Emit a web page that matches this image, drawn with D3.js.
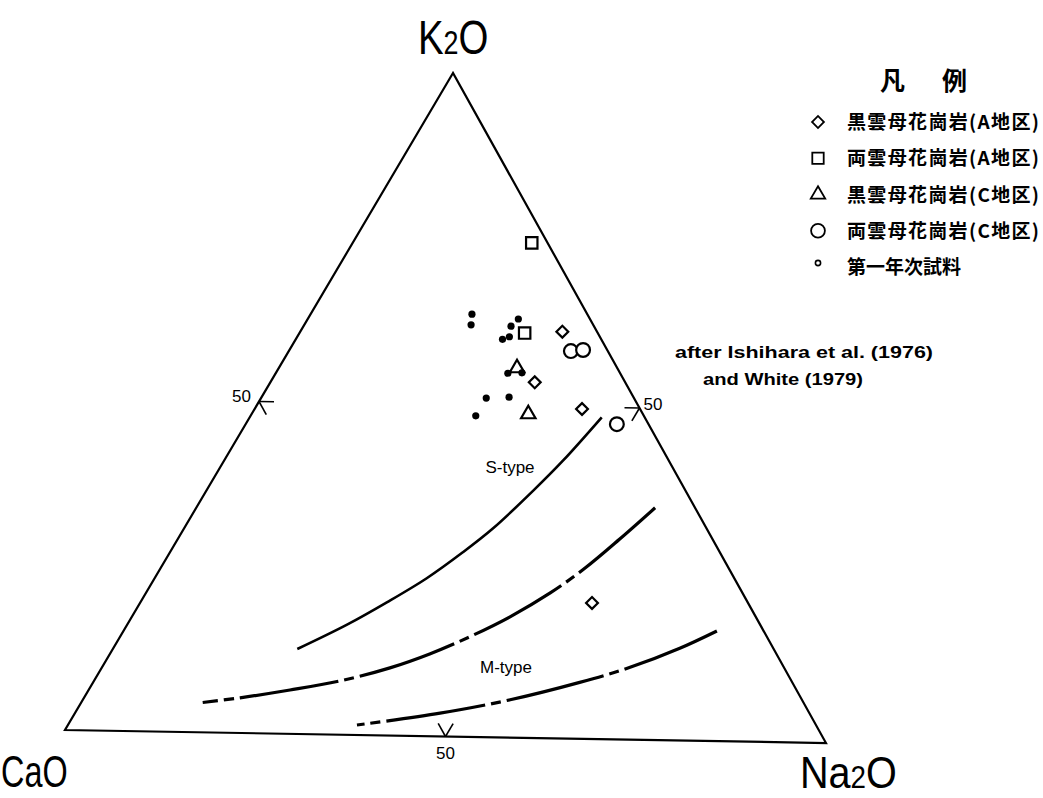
<!DOCTYPE html>
<html>
<head>
<meta charset="utf-8">
<script src="https://cdn.jsdelivr.net/npm/d3@7"></script>
<style>
  body { margin: 0; background: #fff; }
  svg { display: block; }
</style>
</head>
<body>
<svg id="canvas" width="1043" height="798"></svg>
<script>
// ternary values, percent [K2O, CaO, Na2O]
var biotiteA = [[61.3, 4.6, 34.1], [53.6, 12.0, 34.4], [49.7, 7.7, 42.6], [20.5, 20.7, 58.8]];
var twoMicaA = [[74.6, 2.1, 23.3], [61.0, 9.7, 29.3]];
var biotiteC = [[55.7, 13.3, 31.0], [48.8, 15.2, 36.0]];
var twoMicaC = [[58.4, 4.9, 36.7], [58.6, 3.2, 38.2], [47.5, 4.2, 48.3]];
var firstYear = [[63.7, 15.3, 21.0], [62.1, 16.2, 21.7], [62.0, 11.0, 27.0], [63.1, 9.5, 27.4],
                 [60.0, 13.1, 26.9], [60.4, 12.0, 27.6], [54.9, 14.9, 30.2], [55.0, 13.0, 32.0],
                 [51.1, 19.6, 29.3], [51.3, 16.5, 32.2], [48.4, 22.3, 29.3]];

// boundary lines (after Ishihara et al. 1976, White 1979)
var sLine = [[48.5, 5.7, 45.8], [41.9, 14.0, 44.1], [37.2, 20.3, 42.5], [31.5, 28.3, 40.2],
             [27.8, 34.1, 38.1], [23.8, 40.8, 35.4], [20.1, 47.8, 32.1], [16.6, 54.8, 28.6], [12.8, 63.2, 24.0]];
var midLine = [[35.0, 5.3, 59.7], [30.2, 12.3, 57.5], [25.7, 19.1, 55.2], [21.9, 25.5, 52.6],
               [18.2, 32.6, 49.2], [15.1, 39.4, 45.5], [12.4, 46.0, 41.6], [10.2, 52.3, 37.5],
               [8.1, 59.9, 32.0], [6.6, 67.2, 26.2], [5.3, 74.4, 20.3], [4.5, 79.7, 15.8]];
var mLine = [[16.6, 6.2, 77.2], [13.9, 12.4, 73.7], [10.9, 20.4, 68.7], [8.5, 28.2, 63.3],
             [5.7, 38.7, 55.6], [3.5, 49.0, 47.5], [1.5, 60.9, 37.6]];

var tickValues = [50];
var legendLabels = ["黒雲母花崗岩(A地区)", "両雲母花崗岩(A地区)", "黒雲母花崗岩(C地区)", "両雲母花崗岩(C地区)", "第一年次試料"];
var legendTitle = ["凡", "例"];
var fieldLabels = ["S-type", "M-type"];
var sourceNote = ["after Ishihara et al. (1976)", "and White (1979)"];

// corners of the (slightly skewed, scanned) triangle: K2O top, CaO left, Na2O right
var T = [453, 73], C = [65, 730], N = [826, 743];

// barycentric -> pixel, each component through a d3 scale
var wK = d3.scaleLinear().domain([0, 100]).range([0, 1]);
function proj(d) {
  var s = d[0] + d[1] + d[2];
  var k = wK(d[0] * 100 / s), ca = wK(d[1] * 100 / s), na = wK(d[2] * 100 / s);
  return [k * T[0] + ca * C[0] + na * N[0], k * T[1] + ca * C[1] + na * N[1]];
}

var svg = d3.select("#canvas");

// triangle
svg.append("path")
  .attr("d", "M" + T + "L" + C + "L" + N + "Z")
  .attr("fill", "none").attr("stroke", "#000").attr("stroke-width", 2.2);

// 50% ticks: two short strokes into the interior on each side
function unit(a, b) { var dx = b[0] - a[0], dy = b[1] - a[1], l = Math.hypot(dx, dy); return [dx / l, dy / l]; }
var sides = [
  { a: C, b: T, opp: N, val: d => [d, 100 - d, 0], lab: [-8, 0], anchor: "end" },
  { a: T, b: N, opp: C, val: d => [d, 0, 100 - d], lab: [4, 2], anchor: "start" },
  { a: C, b: N, opp: T, val: d => [0, 100 - d, d], lab: [0, 22], anchor: "middle" }
];
sides.forEach(function (s) {
  tickValues.forEach(function (v) {
    var p = proj(s.val(v));
    [unit(s.a, s.opp), unit(s.b, s.opp)].forEach(function (u) {
      svg.append("line")
        .attr("x1", p[0]).attr("y1", p[1])
        .attr("x2", p[0] + u[0] * 15).attr("y2", p[1] + u[1] * 15)
        .attr("stroke", "#000").attr("stroke-width", 1.6);
    });
    svg.append("text")
      .attr("x", p[0] + s.lab[0]).attr("y", p[1] + s.lab[1])
      .attr("text-anchor", s.anchor)
      .style("font", "17px 'Liberation Sans', Arial, sans-serif")
      .text(v);
  });
});

// boundary curves
var line = d3.line().x(d => proj(d)[0]).y(d => proj(d)[1]).curve(d3.curveCatmullRom);
svg.append("path").attr("d", line(sLine))
  .attr("fill", "none").attr("stroke", "#000").attr("stroke-width", 2.6);
svg.append("path").attr("d", line(midLine))
  .attr("fill", "none").attr("stroke", "#000").attr("stroke-width", 3.2)
  .attr("stroke-dasharray", "100,6,10,6");
svg.append("path").attr("d", line(mLine))
  .attr("fill", "none").attr("stroke", "#000").attr("stroke-width", 3.2)
  .attr("stroke-dasharray", "100,6,10,6");

// field labels
svg.append("text").attr("x", 510).attr("y", 473).attr("text-anchor", "middle")
  .style("font", "17px 'Liberation Sans', Arial, sans-serif").text(fieldLabels[0]);
svg.append("text").attr("x", 506).attr("y", 673).attr("text-anchor", "middle")
  .style("font", "17px 'Liberation Sans', Arial, sans-serif").text(fieldLabels[1]);

// symbols
var sym = {
  diamond: d3.symbol().type(d3.symbolSquare).size(70),
  square: d3.symbol().type(d3.symbolSquare).size(130),
  triangle: d3.symbol().type(d3.symbolTriangle).size(90),
  circle: d3.symbol().type(d3.symbolCircle).size(150)
};
function drawSet(data, kind, rot) {
  svg.selectAll(null).data(data).enter().append("path")
    .attr("d", sym[kind]())
    .attr("transform", d => "translate(" + proj(d) + ") rotate(" + rot + ")")
    .attr("fill", "#fff").attr("stroke", "#000").attr("stroke-width", 2.2);
}
drawSet(twoMicaA, "square", 0);
drawSet(biotiteA, "diamond", 45);
drawSet(biotiteC, "triangle", 0);
drawSet(twoMicaC, "circle", 0);
svg.selectAll(null).data(firstYear).enter().append("circle")
  .attr("cx", d => proj(d)[0]).attr("cy", d => proj(d)[1])
  .attr("r", 3.6).attr("fill", "#000");

// vertex labels, tall and narrow like the original lettering
function vLabel(x, y, sx, size, parts) {
  var t = svg.append("text")
    .attr("transform", "translate(" + x + "," + y + ") scale(" + sx + ",1)")
    .style("font-family", "'Liberation Sans', Arial, sans-serif").style("font-size", size + "px");
  parts.forEach(function (p) {
    t.append("tspan").style("font-size", (p[1] ? size * 0.7 : size) + "px").text(p[0]);
  });
}
vLabel(418, 54, 0.8, 48, [["K", 0], ["2", 1], ["O", 0]]);
vLabel(1, 787, 0.72, 45, [["Ca", 0], ["O", 0]]);
vLabel(800, 788, 0.9, 44, [["Na", 0], ["2", 1], ["O", 0]]);

// source note
svg.append("text").attr("x", 675).attr("y", 358)
  .attr("textLength", 258).attr("lengthAdjust", "spacingAndGlyphs")
  .style("font", "bold 16px 'Liberation Sans', Arial, sans-serif").text(sourceNote[0]);
svg.append("text").attr("x", 703).attr("y", 385)
  .attr("textLength", 160).attr("lengthAdjust", "spacingAndGlyphs")
  .style("font", "bold 16px 'Liberation Sans', Arial, sans-serif").text(sourceNote[1]);

// legend
var lg = svg.append("g");
lg.append("text").attr("x", 880).attr("y", 90)
  .style("font", "bold 25px 'Noto Sans CJK JP', sans-serif").text(legendTitle[0]);
lg.append("text").attr("x", 942).attr("y", 90)
  .style("font", "bold 25px 'Noto Sans CJK JP', sans-serif").text(legendTitle[1]);
var legY = d3.scalePoint().domain(legendLabels).range([122, 267]);
var legKinds = ["diamond", "square", "triangle", "circle", "dot"];
legendLabels.forEach(function (lab, i) {
  var y = legY(lab), k = legKinds[i];
  if (k === "dot") {
    lg.append("circle").attr("cx", 818).attr("cy", y - 4).attr("r", 2.6)
      .attr("fill", "none").attr("stroke", "#000").attr("stroke-width", 1.6);
  } else {
    lg.append("path").attr("d", sym[k]())
      .attr("transform", "translate(818," + y + ") rotate(" + (k === "diamond" ? 45 : 0) + ")")
      .attr("fill", "none").attr("stroke", "#000").attr("stroke-width", 1.8);
  }
  var t = lg.append("text").attr("x", 847).attr("y", y + 7)
    .style("font", "bold 19px 'Noto Sans CJK JP', sans-serif").text(lab);
  if (i < 4) t.attr("textLength", 192).attr("lengthAdjust", "spacing");
});
</script>
</body>
</html>
